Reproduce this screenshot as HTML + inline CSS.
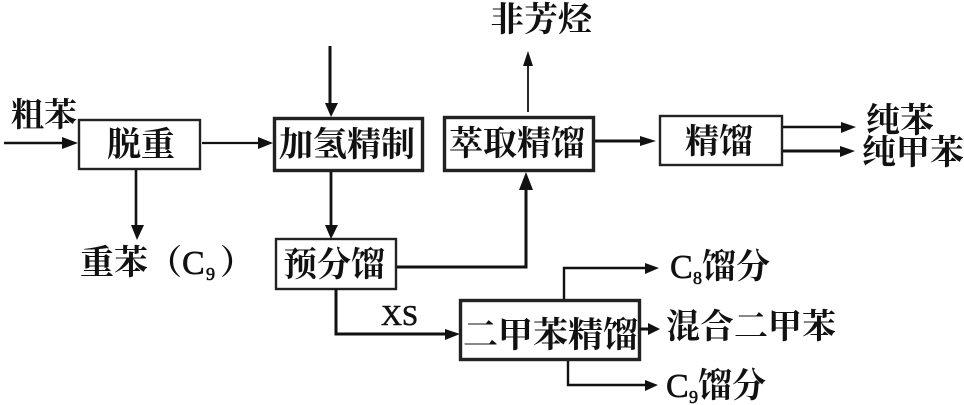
<!DOCTYPE html>
<html><head><meta charset="utf-8"><style>
html,body{margin:0;padding:0;background:#fff;width:964px;height:405px;overflow:hidden}
svg{display:block}
text{font-family:"Liberation Serif","Noto Serif CJK SC",serif;font-size:34px;font-weight:700;fill:#111}
.l{font-weight:400;stroke:#111;stroke-width:.6px}
</style></head><body>
<svg width="964" height="405" viewBox="0 0 964 405" xmlns="http://www.w3.org/2000/svg">
<rect width="964" height="405" fill="#fff"/>
<g fill="none" stroke="#222">
<rect x="79" y="120" width="121" height="49" stroke-width="2.4"/>
<rect x="274.5" y="118.5" width="148" height="52" stroke-width="3.4"/>
<rect x="444.5" y="117.5" width="149" height="53" stroke-width="3.4"/>
<rect x="660" y="116" width="122" height="49" stroke-width="2.4"/>
<rect x="276" y="239" width="120" height="50" stroke-width="2.4"/>
<rect x="460.5" y="300.5" width="179" height="59" stroke-width="3.4"/>
</g>
<g fill="none" stroke="#111">
<path d="M4 143H70" stroke-width="2.6"/>
<path d="M202 143H262" stroke-width="2.2"/>
<path d="M330 46V106" stroke-width="3"/>
<path d="M136 170V228" stroke-width="2.6"/>
<path d="M331 172V228" stroke-width="2.8"/>
<path d="M528 112V62" stroke-width="1.8"/>
<path d="M595 141H645" stroke-width="3"/>
<path d="M783 127H846" stroke-width="2.4"/>
<path d="M783 151H846" stroke-width="3"/>
<path d="M397 267H526V186" stroke-width="3"/>
<path d="M336 289V334H448" stroke-width="3"/>
<path d="M564 299V268H648" stroke-width="2.4"/>
<path d="M640 329H650" stroke-width="3"/>
<path d="M568 361V385H648" stroke-width="2.4"/>
</g>
<g fill="#111">
<path d="M78 143L62 137V149Z"/>
<path d="M273 143L258 137V149Z"/>
<path d="M331 117L325 103H338Z"/>
<path d="M137 240L131 225H144Z"/>
<path d="M331 239L325 225H338Z"/>
<path d="M528 51L523 66H533Z"/>
<path d="M526 172L519 190H533Z"/>
<path d="M656 141L640 136V146Z"/>
<path d="M856 127L841 122V133Z"/>
<path d="M855 151L840 146V157Z"/>
<path d="M460 334L445 329V340Z"/>
<path d="M659 268L645 263V274Z"/>
<path d="M660 329L648 323V335Z"/>
<path d="M658 385L645 380V391Z"/>
</g>
<text x="11" y="126" style="font-size:33px">粗苯</text>
<text x="107" y="156">脱重</text>
<text x="279" y="156">加氢精制</text>
<text x="449" y="155">萃取精馏</text>
<text x="685" y="153">精馏</text>
<text x="283" y="276">预分馏</text>
<text x="490" y="31">非芳烃</text>
<text x="866" y="132">纯苯</text>
<text x="862" y="164">纯甲苯</text>
<text x="80" y="274">重苯（</text>
<text x="182" y="274" class="l">C</text>
<text x="206" y="280" class="l" style="font-size:18px">9</text>
<text x="220" y="274">）</text>
<text x="463" y="347" style="font-size:35px">二甲苯精馏</text>
<text x="666" y="338">混合二甲苯</text>
<text x="670" y="278" class="l">C</text>
<text x="693" y="284" class="l" style="font-size:18px">8</text>
<text x="702" y="278">馏分</text>
<text x="666" y="397" class="l">C</text>
<text x="689" y="403" class="l" style="font-size:18px">9</text>
<text x="698" y="397">馏分</text>
<text x="381" y="325" class="l" style="font-size:29px">XS</text>
</svg>
</body></html>
